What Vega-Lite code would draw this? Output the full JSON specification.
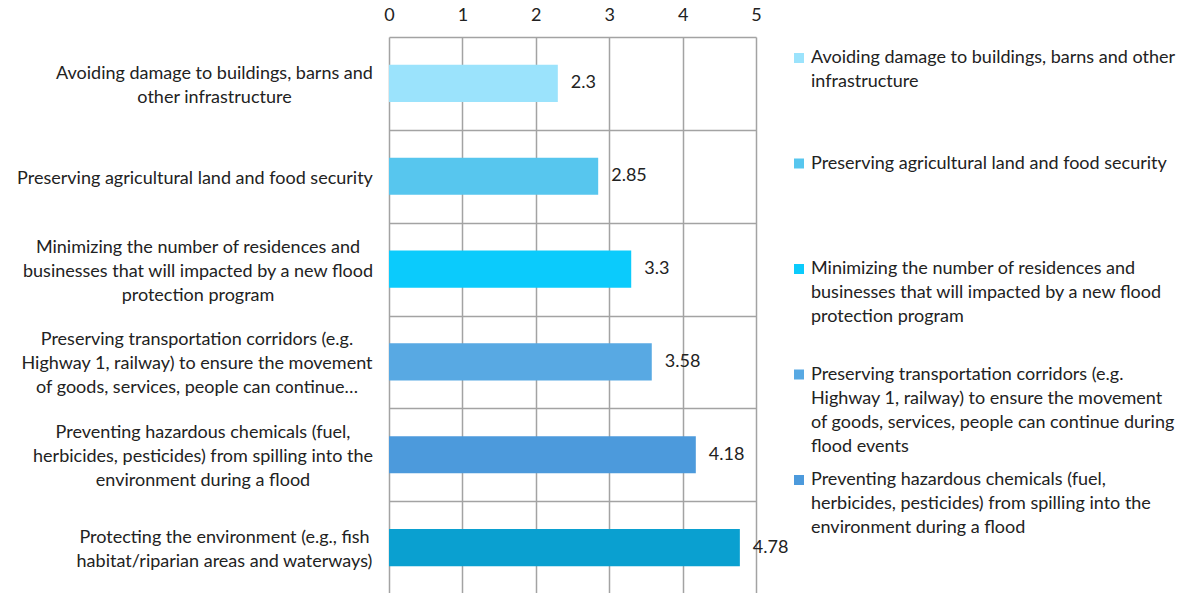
{
  "$schema": "https://vega.github.io/schema/vega-lite/v6.json",
  "width": 367,
  "height": 557,
  "autosize": {"type": "none"},
  "padding": {"left": 389, "top": 37, "right": 426, "bottom": 0},
  "background": "white",
  "config": {
    "view": {"stroke": null},
    "font": "Lato",
    "style": {"guide-label": {"lineHeight": 24}}
  },
  "data": {
    "values": [
      {"axisLabel": "Avoiding damage to buildings, barns and|other infrastructure", "legendLabel": "Avoiding damage to buildings, barns and other|infrastructure", "value": 2.3},
      {"axisLabel": "Preserving agricultural land and food security", "legendLabel": "Preserving agricultural land and food security", "value": 2.85},
      {"axisLabel": "Minimizing the number of residences and|businesses that will impacted by a new flood|protection program", "legendLabel": "Minimizing the number of residences and|businesses that will impacted by a new flood|protection program", "value": 3.3},
      {"axisLabel": "Preserving transportation corridors (e.g.|Highway 1, railway) to ensure the movement|of goods, services, people can continue…", "legendLabel": "Preserving transportation corridors (e.g.|Highway 1, railway) to ensure the movement|of goods, services, people can continue during|flood events", "value": 3.58},
      {"axisLabel": "Preventing hazardous chemicals (fuel,|herbicides, pesticides) from spilling into the|environment during a flood", "legendLabel": "Preventing hazardous chemicals (fuel,|herbicides, pesticides) from spilling into the|environment during a flood", "value": 4.18},
      {"axisLabel": "Protecting the environment (e.g., fish|habitat/riparian areas and waterways)", "legendLabel": "Protecting the environment (e.g., fish|habitat/riparian areas and waterways)", "value": 4.78}
    ]
  },
  "encoding": {
    "y": {
      "field": "axisLabel",
      "type": "nominal",
      "sort": null,
      "scale": {"paddingInner": 0, "paddingOuter": 0},
      "axis": {
        "title": null,
        "orient": "left",
        "ticks": false,
        "domain": false,
        "grid": true,
        "tickBand": "extent",
        "gridColor": "#a3a3a3",
        "gridWidth": 1.5,
        "labelExpr": "split(datum.label, '|')",
        "labelFontSize": 18,
        "labelLineHeight": 24,
        "labelColor": "#222222",
        "labelPadding": {"expr": "[175, 194.5, 191.5, 192.5, 186.5, 165][indexof(domain('y'), datum.value)]"},
        "labelOffset": {"expr": "2 - (length(split(datum.value, '|')) - 1) * 12"},
        "labelLimit": 0,
        "labelAlign": "center",
        "labelBaseline": "middle"
      }
    }
  },
  "layer": [
    {
      "mark": {"type": "bar", "height": {"band": 0.4}},
      "encoding": {
        "x": {
          "field": "value",
          "type": "quantitative",
          "scale": {"domain": [0, 5], "nice": false},
          "axis": {
            "title": null,
            "orient": "top",
            "values": [0, 1, 2, 3, 4, 5],
            "format": "d",
            "ticks": false,
            "domain": false,
            "grid": true,
            "gridColor": "#a3a3a3",
            "gridWidth": 1.5,
            "labelFontSize": 18,
            "labelColor": "#222222",
            "labelPadding": 13,
            "labelFlush": false
          }
        },
        "color": {
          "field": "legendLabel",
          "type": "nominal",
          "scale": {
            "domain": [
              "Avoiding damage to buildings, barns and other|infrastructure",
              "Preserving agricultural land and food security",
              "Minimizing the number of residences and|businesses that will impacted by a new flood|protection program",
              "Preserving transportation corridors (e.g.|Highway 1, railway) to ensure the movement|of goods, services, people can continue during|flood events",
              "Preventing hazardous chemicals (fuel,|herbicides, pesticides) from spilling into the|environment during a flood",
              "Protecting the environment (e.g., fish|habitat/riparian areas and waterways)"
            ],
            "range": ["#9BE3FC", "#57C6EE", "#0BCBFC", "#58A9E3", "#4C9ADC", "#0AA0D0"]
          },
          "legend": {
            "title": null,
            "orient": "none",
            "legendX": 401,
            "legendY": 17,
            "padding": 0,
            "values": [
              "Avoiding damage to buildings, barns and other|infrastructure",
              "Preserving agricultural land and food security",
              "Minimizing the number of residences and|businesses that will impacted by a new flood|protection program",
              "Preserving transportation corridors (e.g.|Highway 1, railway) to ensure the movement|of goods, services, people can continue during|flood events",
              "Preventing hazardous chemicals (fuel,|herbicides, pesticides) from spilling into the|environment during a flood"
            ],
            "symbolType": "M-1,-2H1V0H-1Z",
            "symbolSize": 100,
            "symbolStrokeWidth": 0,
            "labelExpr": "slice(split(datum.label + '||||', '|'), 0, 4)",
            "labelFontSize": 18,
            "labelColor": "#222222",
            "labelBaseline": "alphabetic",
            "labelOffset": 3,
            "labelLimit": 0,
            "rowPadding": 15.5
          }
        }
      }
    },
    {
      "mark": {"type": "text", "align": "left", "baseline": "middle", "dx": 13, "fontSize": 18, "color": "#222222"},
      "encoding": {
        "x": {"field": "value", "type": "quantitative"},
        "text": {"field": "value", "type": "quantitative"}
      }
    }
  ]
}
